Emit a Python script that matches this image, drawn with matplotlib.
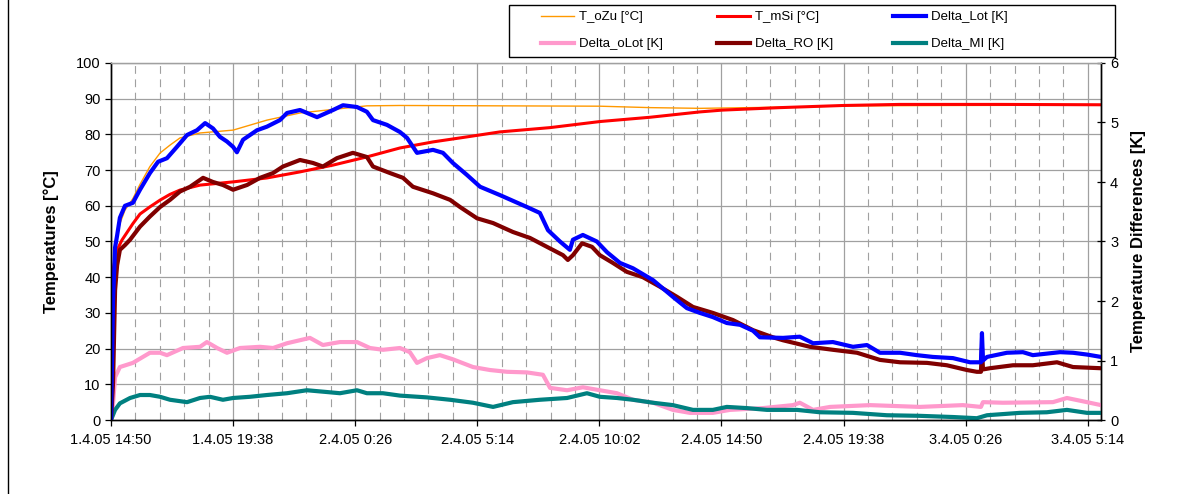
import datetime
import numpy as np
import matplotlib
matplotlib.use("Agg")
import matplotlib.pyplot as plt
from matplotlib.lines import Line2D
from matplotlib.patches import Rectangle

plt.rcParams['font.family'] = ['Liberation Sans', 'DejaVu Sans']

start = datetime.datetime(2005, 4, 1, 14, 50)

# hours after start / readings
h_ozu = [0, 0.04, 0.16, 0.35, 0.55, 0.86, 1.14, 1.53, 1.93, 2.32, 2.71, 3.50, 4.80, 6.13, 7.43,
         8.73, 10.06, 11.36, 15.29, 19.22, 21.19, 23.15, 25.12, 27.08, 29.05, 32.98, 38.92]
t_ozu = [35.6, 40, 48.5, 55, 58.8, 62, 66, 71, 74.8, 77, 79, 80.4, 81.2, 84, 86,
         87, 88, 88.1, 88, 87.9, 87.5, 87.3, 87.5, 87.7, 88, 88.1, 88.2]

h_msi = [0, 0.08, 0.24, 0.43, 0.86, 1.14, 1.53, 1.93, 2.32, 2.71, 3.50, 4.80, 6.13, 7.43, 8.73,
         10.06, 11.36, 12.66, 13.99, 15.29, 17.26, 19.22, 21.19, 23.15, 24.02, 26.30, 28.78,
         31.02, 34.95, 38.92]
t_msi = [39.5, 42, 47.6, 50.4, 55, 57.7, 59.7, 61.6, 63.2, 64.4, 65.8, 66.7, 67.8, 69.5, 71.4,
         73.7, 76.2, 77.9, 79.3, 80.7, 81.9, 83.6, 84.8, 86.3, 86.8, 87.5, 88.1,
         88.4, 88.4, 88.3]

h_lot = [0, 0.04, 0.08, 0.16, 0.24, 0.35, 0.55, 0.86, 1.14, 1.53, 1.85, 2.20, 2.59, 2.99, 3.38,
         3.70, 4.01, 4.28, 4.56, 4.80, 4.95, 5.19, 5.74, 6.13, 6.64, 6.92, 7.43, 8.10, 8.73,
         9.12, 9.67, 10.06, 10.30, 10.85, 11.36, 11.64, 12.03, 12.66, 13.05, 13.44, 13.99,
         14.51, 15.29, 16.35, 16.86, 17.18, 17.65, 18.04, 18.16, 18.55, 19.10, 19.50, 20.01,
         20.52, 21.31, 22.09, 22.64, 23.15, 23.66, 24.21, 24.73, 25.24, 25.51, 26.42, 27.08,
         27.60, 28.38, 29.17, 29.72, 30.23, 31.02, 31.68, 32.31, 33.10, 33.77, 34.20, 34.24,
         34.28, 34.44, 35.22, 35.85, 36.24, 37.31, 37.82, 38.37, 38.92]
d_lot = [0, 1.0, 2.0, 2.9, 3.1, 3.4, 3.6, 3.65, 3.87, 4.15, 4.34, 4.4, 4.59, 4.79, 4.87,
         4.99, 4.9, 4.76, 4.68, 4.59, 4.5, 4.71, 4.87, 4.93, 5.04, 5.16, 5.21, 5.09, 5.21,
         5.29, 5.26, 5.18, 5.04, 4.96, 4.84, 4.74, 4.49, 4.54, 4.49, 4.32, 4.12,
         3.92, 3.78, 3.58, 3.48, 3.19, 3.0, 2.86, 3.03, 3.11, 3.0, 2.82, 2.64,
         2.55, 2.35, 2.07, 1.88, 1.8, 1.73, 1.63, 1.6, 1.5, 1.39, 1.38, 1.4,
         1.29, 1.31, 1.23, 1.26, 1.13, 1.13, 1.09, 1.06, 1.04, 0.97, 0.97, 1.46,
         1.0, 1.06, 1.13, 1.14, 1.09, 1.14, 1.13, 1.1, 1.06]

h_ro = [0, 0.04, 0.08, 0.16, 0.24, 0.35, 0.55, 0.75, 1.14, 1.53, 1.93, 2.32, 2.71, 3.11, 3.62,
        4.01, 4.40, 4.80, 5.35, 5.86, 6.37, 6.76, 7.43, 7.94, 8.33, 8.88, 9.51, 10.06, 10.30,
        10.97, 11.48, 11.87, 12.66, 13.33, 13.72, 14.39, 15.02, 15.80, 16.47, 17.14, 17.77,
        17.96, 18.16, 18.52, 18.91, 19.22, 19.73, 20.28, 20.91, 21.58, 22.25, 22.88, 23.66,
        24.45, 25.24, 26.02, 26.42, 27.48, 28.38, 29.33, 30.23, 31.02, 32.08, 32.86, 33.65,
        34.04, 34.20, 34.24, 34.28, 34.55, 35.46, 36.24, 37.19, 37.82, 38.92]
d_ro = [0, 0.3, 0.62, 2.18, 2.6, 2.86, 2.94, 3.03, 3.25, 3.42, 3.58, 3.7, 3.84, 3.92, 4.07,
        4.0, 3.95, 3.87, 3.95, 4.07, 4.15, 4.26, 4.37, 4.32, 4.26, 4.4, 4.49, 4.42, 4.26,
        4.15, 4.07, 3.92, 3.81, 3.7, 3.58, 3.39, 3.31, 3.16, 3.06, 2.91, 2.77,
        2.69, 2.77, 2.97, 2.91, 2.77, 2.64, 2.49, 2.4, 2.24, 2.07, 1.9, 1.8,
        1.68, 1.51, 1.39, 1.34, 1.23, 1.18, 1.13, 1.01, 0.97, 0.96, 0.92, 0.84,
        0.81, 0.81, 1.21, 0.85, 0.87, 0.92, 0.92, 0.97, 0.89, 0.87]

h_olot = [0, 0.04, 0.16, 0.35, 0.86, 1.53, 1.93, 2.20, 2.83, 3.50, 3.77, 4.17, 4.56, 5.07, 5.86,
          6.37, 6.92, 7.82, 8.33, 9.00, 9.67, 10.18, 10.69, 11.36, 11.75, 12.03, 12.42, 12.93,
          13.44, 14.23, 14.90, 15.57, 16.35, 16.98, 17.26, 17.93, 18.55, 19.22, 19.89, 20.52,
          21.31, 22.09, 22.76, 23.66, 24.33, 25.63, 26.81, 27.08, 27.60, 28.27, 29.84, 31.80,
          33.49, 34.20, 34.28, 35.06, 37.03, 37.58, 38.37, 38.92]
d_olot = [0, 0.05, 0.72, 0.89, 0.96, 1.13, 1.13, 1.09, 1.21, 1.23, 1.31, 1.21, 1.13, 1.21, 1.23,
          1.21, 1.29, 1.38, 1.26, 1.31, 1.31, 1.21, 1.18, 1.21, 1.14, 0.96, 1.04, 1.09,
          1.02, 0.89, 0.84, 0.81, 0.8, 0.76, 0.54, 0.5, 0.55, 0.5, 0.45, 0.34,
          0.29, 0.17, 0.12, 0.12, 0.17, 0.2, 0.25, 0.29, 0.17, 0.22, 0.25, 0.22,
          0.25, 0.22, 0.3, 0.29, 0.3, 0.37, 0.3, 0.25]

h_mi = [0, 0.16, 0.35, 0.75, 1.14, 1.53, 1.93, 2.32, 2.99, 3.50, 3.89, 4.40, 4.80, 5.46, 6.13,
        6.92, 7.70, 8.49, 9.00, 9.67, 10.06, 10.69, 11.36, 12.42, 13.33, 14.23, 15.02, 15.80,
        16.86, 17.93, 18.71, 19.22, 19.89, 20.52, 21.31, 22.09, 22.88, 23.66, 24.21, 25.00,
        25.79, 26.97, 27.87, 29.17, 30.50, 31.80, 33.10, 34.04, 34.44, 35.73, 36.79, 37.58,
        38.37, 38.92]
d_mi = [0, 0.17, 0.28, 0.37, 0.42, 0.42, 0.39, 0.34, 0.3, 0.37, 0.39, 0.34, 0.37, 0.39, 0.42,
        0.45, 0.5, 0.47, 0.45, 0.5, 0.45, 0.45, 0.41, 0.38, 0.34, 0.29, 0.22, 0.3,
        0.34, 0.37, 0.45, 0.39, 0.37, 0.34, 0.29, 0.25, 0.17, 0.17, 0.22, 0.2,
        0.17, 0.17, 0.13, 0.12, 0.08, 0.07, 0.05, 0.03, 0.08, 0.12, 0.13, 0.17,
        0.12, 0.12]

tick_step = 4.8   # hours between labelled ticks
x_end = 38.92

W, H = 1196, 494
fig = plt.figure(figsize=(W / 100, H / 100), dpi=100)
ax = fig.add_axes([111/W, 1-420/H, 990/W, 357/H])
ax2 = ax.twinx()

grid_c = '#a0a0a0'
ax.set_xlim(0, x_end)
ax.set_ylim(0, 100)
ax2.set_ylim(0, 6)

major = np.arange(0, x_end, tick_step)
minor = np.arange(0, x_end, tick_step / 5)
ax.set_xticks(major)
labels = []
for m in major:
    d = start + datetime.timedelta(hours=float(m))
    labels.append(f"{d.day}.{d.month}.{d:%y} {d.hour}:{d:%M}")
ax.set_xticklabels(labels)
ax.set_yticks(np.arange(0, 101, 10))
ax2.set_yticks(np.arange(0, 7, 1))

for v in minor:
    if not np.any(np.isclose(v, major)):
        ax.axvline(v, color=grid_c, lw=0.8, ls=(0, (7, 5)), zorder=0)
for v in major[1:]:
    ax.axvline(v, color=grid_c, lw=0.9, zorder=0)
for v in np.arange(10, 101, 10):
    ax.axhline(v, color=grid_c, lw=0.9, zorder=0)

ax.tick_params(axis='x', direction='out', length=4, width=0.9, labelsize=10.5, pad=5)
ax.tick_params(axis='y', direction='out', length=4, width=0.9, labelsize=10.5)
ax2.tick_params(axis='y', direction='inout', length=6, width=0.9, labelsize=10.5)

for a in (ax, ax2):
    a.spines['top'].set_color(grid_c)
    a.spines['top'].set_linewidth(0.9)
    for s in ('left', 'right', 'bottom'):
        a.spines[s].set_linewidth(1.0)

ax.set_ylabel('Temperatures [°C]', fontsize=12, fontweight='bold', labelpad=12)
ax2.set_ylabel('Temperature Differences [K]', fontsize=12, fontweight='bold', labelpad=9)

l_ozu, = ax.plot(h_ozu, t_ozu, color='#ff9900', lw=1.0)
l_msi, = ax.plot(h_msi, t_msi, color='#ff0000', lw=2.2)
l_olot, = ax2.plot(h_olot, d_olot, color='#ff99cc', lw=3.0)
l_mi, = ax2.plot(h_mi, d_mi, color='#008080', lw=3.0)
l_ro, = ax2.plot(h_ro, d_ro, color='#800000', lw=3.0)
l_lot, = ax2.plot(h_lot, d_lot, color='#0000ff', lw=3.0)

# legend: three equal-width columns inside one frame
cols = [([l_ozu, l_olot], ['T_oZu [°C]', 'Delta_oLot [K]']),
        ([l_msi, l_ro], ['T_mSi [°C]', 'Delta_RO [K]']),
        ([l_lot, l_mi], ['Delta_Lot [K]', 'Delta_MI [K]'])]
col_x = [541, 717, 893]
for (hs, ns), cx in zip(cols, col_x):
    fig.legend(hs, ns, loc='upper left', bbox_to_anchor=(cx / W, 1 - 11 / H),
               fontsize=9.5, frameon=False, handlelength=2.5, handletextpad=0.35,
               labelspacing=1.12, borderpad=0, borderaxespad=0)
fig.add_artist(Rectangle((509 / W, 1 - 57 / H), (1115 - 509) / W, 52 / H,
                         transform=fig.transFigure, fill=False, edgecolor='black', lw=1.0))

fig.add_artist(Line2D([8 / W, 8 / W], [0, 1], color='black', lw=1.0))

fig.savefig('out.png', dpi=100)
